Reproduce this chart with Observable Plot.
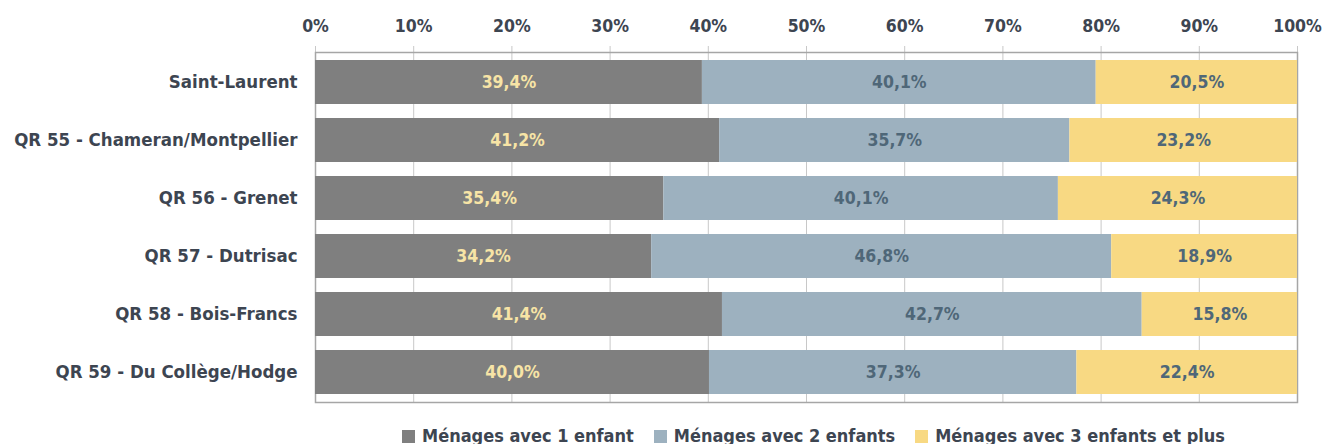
<!DOCTYPE html>
<html>
<head>
<meta charset="utf-8">
<script src="https://cdn.jsdelivr.net/npm/d3@7"></script>
<script src="https://cdn.jsdelivr.net/npm/@observablehq/plot@0.6"></script>
<style>
  body { margin: 0; background: #fff; font-family: "DejaVu Sans Condensed", "DejaVu Sans", sans-serif; }
  #legend { display: flex; justify-content: center; align-items: center; gap: 20px; padding-left: 305px; margin-top: 22px;
    font-weight: bold; font-size: 18px; color: #3d4551; line-height: 20px; }
  #legend .it { display: flex; align-items: center; gap: 7px; }
  #legend .sw { width: 13px; height: 13px; display: inline-block; }
</style>
</head>
<body>
<div id="chart"></div>
<div id="legend"></div>
<script>
const categories = ["Saint-Laurent", "QR 55 - Chameran/Montpellier", "QR 56 - Grenet", "QR 57 - Dutrisac", "QR 58 - Bois-Francs", "QR 59 - Du Collège/Hodge"];
const seriesNames = ["Ménages avec 1 enfant", "Ménages avec 2 enfants", "Ménages avec 3 enfants et plus"];
const oneChild = [39.4, 41.2, 35.4, 34.2, 41.4, 40.0];
const twoChildren = [40.1, 35.7, 40.1, 46.8, 42.7, 37.3];
const threePlus = [20.5, 23.2, 24.3, 18.9, 15.8, 22.4];
const xTicks = [0, 0.1, 0.2, 0.3, 0.4, 0.5, 0.6, 0.7, 0.8, 0.9, 1];
const colors = ["#7f7f7f", "#9db1bf", "#f8d983"];
const labelColors = ["#f7e4a6", "#4f6778", "#4f6778"];

const seriesValues = [oneChild, twoChildren, threePlus];
const data = [];
seriesNames.forEach((s, si) => categories.forEach((c, ci) => data.push({cat: c, series: s, value: seriesValues[si][ci]})));

const fmt = v => v.toFixed(1).replace(".", ",") + "%";

const chart = Plot.plot({
  width: 1322,
  height: 404,
  marginTop: 52,
  marginBottom: 2,
  marginLeft: 315,
  marginRight: 25,
  style: {fontFamily: '"DejaVu Sans Condensed", "DejaVu Sans", sans-serif', fontWeight: "bold", color: "#3d4551"},
  x: {domain: [0, 1], axis: null, label: null},
  y: {domain: categories, paddingInner: 0.24, paddingOuter: 0.12, axis: null, label: null},
  color: {domain: seriesNames, range: colors},
  marks: [
    Plot.gridX(xTicks, {stroke: "#c8c8c8", strokeOpacity: 1, insetTop: -6}),
    Plot.frame({stroke: "#a6a6a6", strokeWidth: 1.5}),
    Plot.barX(data, Plot.stackX({x: "value", y: "cat", fill: "series", offset: "normalize", order: seriesNames})),
    Plot.text(data, Plot.stackX({x: "value", y: "cat", z: "series", offset: "normalize", order: seriesNames,
      text: d => fmt(d.value), fill: d => labelColors[seriesNames.indexOf(d.series)], fontSize: 17.5, fontWeight: "bold"})),
    Plot.axisX(xTicks, {anchor: "top", label: null, tickFormat: d3.format(".0%"), tickSize: 0, tickPadding: 21, fontSize: 17.5, fontWeight: "bold", fill: "#3d4551"}),
    Plot.axisY({anchor: "left", label: null, tickSize: 0, tickPadding: 18, fontSize: 18.5, fontWeight: "bold", fill: "#3d4551"})
  ]
});
document.getElementById("chart").append(chart);

const leg = document.getElementById("legend");
seriesNames.forEach((s, i) => {
  const it = document.createElement("span");
  it.className = "it";
  const sw = document.createElement("span");
  sw.className = "sw";
  sw.style.background = colors[i];
  it.append(sw, document.createTextNode(s));
  leg.append(it);
});
</script>
</body>
</html>
